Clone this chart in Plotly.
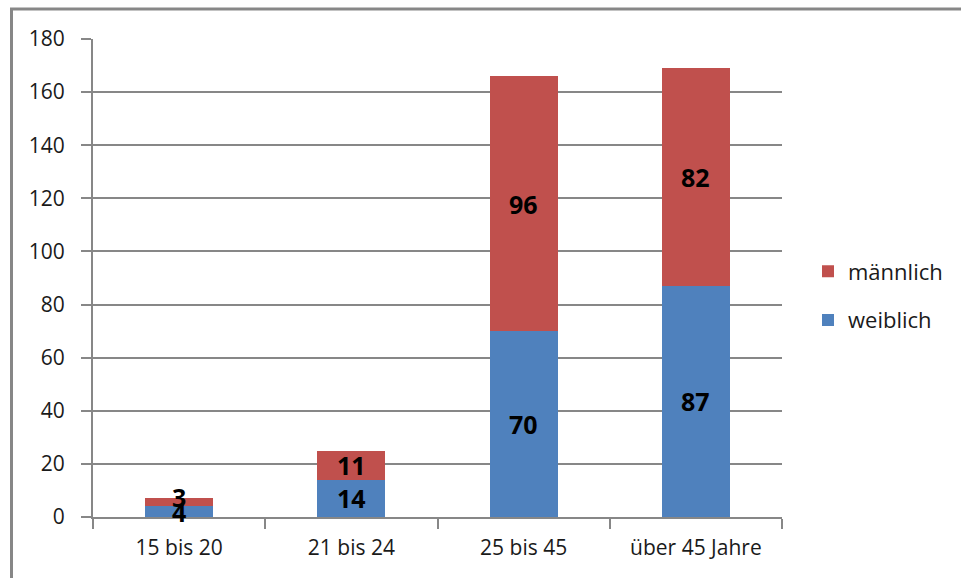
import plotly.graph_objects as go

categories = ["15 bis 20", "21 bis 24", "25 bis 45", "über 45 Jahre"]
weiblich = [4, 14, 70, 87]
maennlich = [3, 11, 96, 82]

W, H = 961, 578
ML, MR, MT, MB = 93, 179, 39, 61
PW, PH = W - ML - MR, H - MT - MB


def px_x(px):
    return (px - ML) / PW


def px_y(py):
    return (H - MB - py) / PH


FAMILY = "Open Sans, Liberation Sans, sans-serif"
label_font = dict(family=FAMILY, size=25, color="black", weight="bold")
tick_font = dict(family=FAMILY, size=21, color="#1a1a1a")
grey = "#878787"

fig = go.Figure()
fig.add_trace(go.Bar(
    x=categories, y=weiblich, name="weiblich",
    marker=dict(color="#4F81BD", line=dict(width=0)),
    legendgroup="w", legendrank=2,
))
fig.add_trace(go.Bar(
    x=categories, y=maennlich, name="männlich",
    marker=dict(color="#C0504D", line=dict(width=0)),
    legendgroup="m", legendrank=1,
))

# value labels centred in each segment, drawn above all bars
for cat, w, m in zip(categories, weiblich, maennlich):
    tight = (w + m) < 10
    fig.add_annotation(x=cat, y=w + m / 2, text=str(m), showarrow=False,
                       font=label_font, yshift=5 if tight else 0)
    fig.add_annotation(x=cat, y=w / 2, text=str(w), showarrow=False,
                       font=label_font, yshift=0)

# outer chart frame (partially outside the page)
fig.add_shape(type="rect", xref="paper", yref="paper",
              x0=px_x(11.5), x1=px_x(1100), y0=px_y(700), y1=px_y(9),
              line=dict(color=grey, width=3), layer="below")

fig.update_layout(
    width=W, height=H,
    margin=dict(l=ML, r=MR, t=MT, b=MB, pad=0),
    paper_bgcolor="white", plot_bgcolor="white",
    barmode="stack", bargap=0.605,
    showlegend=True,
    legend=dict(x=px_x(808), y=px_y(296), xanchor="left", yanchor="middle",
                traceorder="grouped", tracegroupgap=17,
                font=dict(family=FAMILY, size=22, color="#1a1a1a"),
                itemwidth=30),
    xaxis=dict(
        showline=True, linecolor=grey, linewidth=2,
        ticks="outside", tickson="boundaries", ticklen=10, tickcolor=grey, tickwidth=2,
        tickfont=tick_font, showgrid=False, ticklabelstandoff=11,
    ),
    yaxis=dict(
        range=[0, 180], dtick=20, showline=True, linecolor=grey, linewidth=2,
        ticks="outside", ticklen=10, tickcolor=grey, tickwidth=2,
        showgrid=True, gridcolor=grey, gridwidth=2, zeroline=False,
        tickfont=tick_font, ticklabelstandoff=12,
    ),
)

fig.write_html("out.html")
